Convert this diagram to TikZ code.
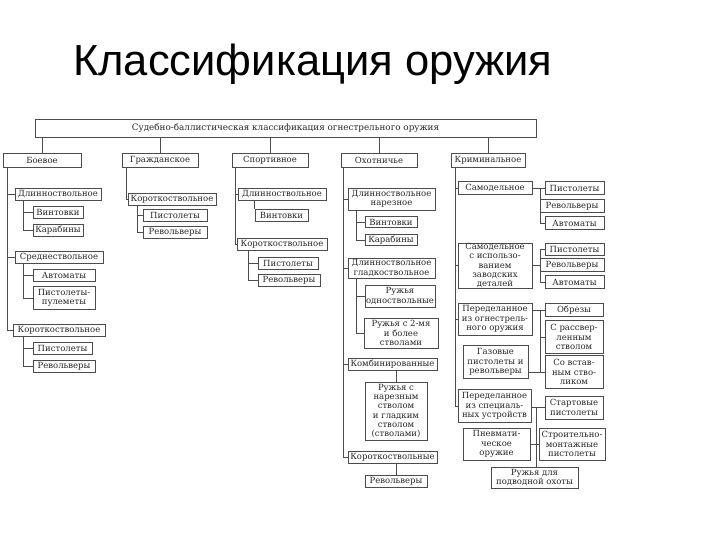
\documentclass[tikz,border=0pt]{standalone}
\usepackage{fontspec}
\setmainfont{DejaVu Serif}
\newfontfamily\titlefont{Liberation Sans}
\newcommand\mybox[6]{\node[bx, minimum width=#4pt, minimum height=#5pt] (#1) at (#2,#3) {#6};}
\begin{document}
\begin{tikzpicture}[x=1pt,y=-1pt,
  bx/.style={draw=black!70, line width=0.5pt, fill=white, inner sep=0.3pt, align=center,
    font=\fontsize{8.5}{9.3}\selectfont, text=black!85},
  ln/.style={draw=black!70, line width=0.6pt}]
\useasboundingbox (0,0) rectangle (720,540);

\node[anchor=base west, font=\titlefont\fontsize{43.5}{50}\selectfont, inner sep=0] (title) at (73,76) {Классификация оружия};

% top
\mybox{top}{285.5}{128}{501}{18}{\fontsize{8.8}{10}\selectfont Судебно-баллистическая классификация огнестрельного оружия}
\mybox{b1}{42}{160}{78}{14}{Боевое}
\mybox{b2}{160}{160}{76}{14}{Гражданское}
\mybox{b3}{270}{160}{76}{14}{Спортивное}
\mybox{b4}{379}{160}{76}{14}{Охотничье}
\mybox{b5}{488}{160}{74}{14}{Криминальное}
\foreach \n in {b1,b2,b3,b4,b5} \draw[ln] (\n.north |- top.south) -- (\n.north);

% column 1
\mybox{c1a}{58}{194}{86}{12}{Длинноствольное}
\mybox{c1a1}{58}{212}{50}{12}{Винтовки}
\mybox{c1a2}{58}{230}{50}{12}{Карабины}
\mybox{c1b}{59}{257}{88}{12}{Среднествольное}
\mybox{c1b1}{64}{275}{62}{12}{Автоматы}
\mybox{c1b2}{64}{298}{62}{23}{Пистолеты-\\пулеметы}
\mybox{c1c}{59}{330}{92}{12}{Короткоствольное}
\mybox{c1c1}{62.5}{348}{59}{12}{Пистолеты}
\mybox{c1c2}{64}{366}{62}{12}{Револьверы}
\coordinate (t1) at (7,0);
\draw[ln] (b1.south -| t1) |- (c1c.west);
\draw[ln] (t1 |- c1a.west) -- (c1a.west);
\draw[ln] (t1 |- c1b.west) -- (c1b.west);
\coordinate (s1) at (23,0);
\draw[ln] (c1a.south -| s1) |- (c1a2.west);
\draw[ln] (s1 |- c1a1.west) -- (c1a1.west);
\draw[ln] (c1b.south -| s1) |- (c1b2.west);
\draw[ln] (s1 |- c1b1.west) -- (c1b1.west);
\draw[ln] (c1c.south -| s1) |- (c1c2.west);
\draw[ln] (s1 |- c1c1.west) -- (c1c1.west);

% column 2
\mybox{c2}{172}{199}{88}{12}{Короткоствольное}
\mybox{c2a}{175}{215}{64}{12}{Пистолеты}
\mybox{c2b}{175}{232}{64}{12}{Револьверы}
\coordinate (t2) at (126,0);
\draw[ln] (b2.south -| t2) |- (c2.west);
\coordinate (s2) at (137,0);
\draw[ln] (c2.south -| s2) |- (c2b.west);
\draw[ln] (s2 |- c2a.west) -- (c2a.west);

% column 3
\mybox{c3a}{282}{194}{88}{12}{Длинноствольное}
\mybox{c3a1}{281.5}{215}{53}{12}{Винтовки}
\mybox{c3b}{282}{244}{90}{12}{Короткоствольное}
\mybox{c3b1}{288}{263}{60}{12}{Пистолеты}
\mybox{c3b2}{289}{280}{62}{12}{Револьверы}
\coordinate (t3) at (235,0);
\draw[ln] (b3.south -| t3) |- (c3b.west);
\draw[ln] (t3 |- c3a.west) -- (c3a.west);
\draw[ln] (c3a.south -| c3a1.north west) -- (c3a1.north west);
\coordinate (s3) at (248,0);
\draw[ln] (c3b.south -| s3) |- (c3b2.west);
\draw[ln] (s3 |- c3b1.west) -- (c3b1.west);

% column 4
\mybox{c4a}{391.5}{199}{87}{22}{Длинноствольное\\нарезное}
\mybox{c4a1}{391}{222}{52}{11}{Винтовки}
\mybox{c4a2}{391}{240}{52}{11}{Карабины}
\mybox{c4b}{391.5}{268}{87}{20}{Длинноствольное\\гладкоствольное}
\mybox{c4b1}{400}{296}{70}{22}{Ружья\\одноствольные}
\mybox{c4b2}{401}{333}{74}{30}{Ружья с 2-мя\\и более\\стволами}
\mybox{c4c}{392.5}{364}{89}{12}{Комбинированные}
\mybox{c4c1}{396}{411}{62}{58}{Ружья с\\нарезным\\стволом\\и гладким\\стволом\\(стволами)}
\mybox{c4d}{392.5}{457}{89}{12}{Короткоствольные}
\mybox{c4d1}{396}{481}{62}{12}{Револьверы}
\coordinate (t4) at (343,0);
\draw[ln] (b4.south -| t4) |- (c4d.west);
\draw[ln] (t4 |- c4a.west) -- (c4a.west);
\draw[ln] (t4 |- c4b.west) -- (c4b.west);
\draw[ln] (t4 |- c4c.west) -- (c4c.west);
\coordinate (s4) at (356,0);
\draw[ln] (c4a.south -| s4) |- (c4a2.west);
\draw[ln] (s4 |- c4a1.west) -- (c4a1.west);
\draw[ln] (c4b.south -| s4) |- (c4b2.west);
\draw[ln] (s4 |- c4b1.west) -- (c4b1.west);
\draw[ln] (c4c.south -| c4c1.north) -- (c4c1.north);
\draw[ln] (c4d.south -| c4d1.north) -- (c4d1.north);

% column 5
\mybox{c5a}{495}{188}{74}{13}{Самодельное}
\mybox{c5a1}{574.5}{188}{59}{13}{Пистолеты}
\mybox{c5a2}{572}{206}{64}{13}{Револьверы}
\mybox{c5a3}{574.5}{223}{59}{13}{Автоматы}
\mybox{c5b}{495}{265.5}{74}{45}{Самодельное\\с использо-\\ванием\\заводских\\деталей}
\mybox{c5b1}{574.5}{249}{59}{12}{Пистолеты}
\mybox{c5b2}{572}{265}{64}{13}{Револьверы}
\mybox{c5b3}{574.5}{282}{59}{13}{Автоматы}
\mybox{c5c}{495}{319}{74}{32}{Переделанное\\из огнестрель-\\ного оружия}
\mybox{c5c1}{574}{310}{58}{13}{Обрезы}
\mybox{c5c2}{574}{337}{58}{33}{С рассвер-\\ленным\\стволом}
\mybox{c5c3}{574}{372}{58}{33}{Со встав-\\ным ство-\\ликом}
\mybox{c5g}{495.5}{362}{65}{33}{Газовые\\пистолеты и\\револьверы}
\mybox{c5d}{494.5}{406}{73}{33}{Переделанное\\из специаль-\\ных устройств}
\mybox{c5d1}{574}{407.5}{58}{23}{Стартовые\\пистолеты}
\mybox{c5e}{496.5}{444}{67}{32}{Пневмати-\\ческое\\оружие}
\mybox{c5e1}{572}{444}{66}{32}{Строительно-\\монтажные\\пистолеты}
\mybox{c5f}{534.5}{477.5}{87}{21}{Ружья для\\подводной охоты}
\coordinate (t5) at (455,0);
\draw[ln] (b5.south -| t5) |- (c5d.west);
\draw[ln] (t5 |- c5a.west) -- (c5a.west);
\draw[ln] (t5 |- c5b.west) -- (c5b.west);
\draw[ln] (t5 |- c5c.west) -- (c5c.west);
\coordinate (r5) at (540,0);
\draw[ln] (c5a.east) -- (c5a1.west);
\draw[ln] (r5 |- c5a1.west) |- (c5a3.west);
\draw[ln] (c5b.east) -- (r5 |- c5b.east);
\draw[ln] (r5 |- c5b1.west) -- (c5b1.west);
\draw[ln] (r5 |- c5b1.west) |- (c5b3.west);
\draw[ln] (c5c.east |- c5c1.west) -- (c5c1.west);
\draw[ln] (r5 |- c5c1.west) |- (c5c3.west);
\draw[ln] (r5 |- c5c2.west) -- (c5c2.west);
\draw[ln] (c5g.east |- c5c3.west) -- (r5 |- c5c3.west);
\coordinate (r6) at (536,0);
\draw[ln] (c5d.east |- c5d1.west) -- (c5d1.west);
\draw[ln] (r6 |- c5d1.west) -- (c5f.north -| r6);
\draw[ln] (c5e.east) -- (c5e1.west);
\end{tikzpicture}
\end{document}
